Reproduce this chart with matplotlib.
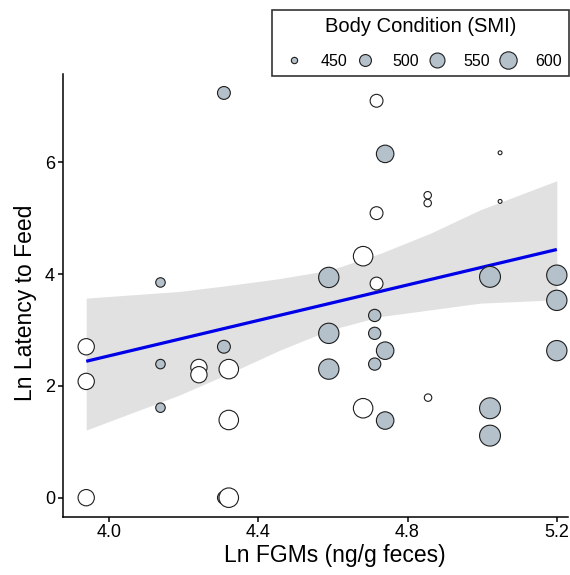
import numpy as np
import matplotlib
matplotlib.use('Agg')
import matplotlib.pyplot as plt
from matplotlib.lines import Line2D

plt.rcParams['font.family'] = ['Liberation Sans', 'DejaVu Sans']

# points: Ln FGMs, Ln latency, body condition (SMI)
grey_x = [4.308, 4.138, 4.740, 4.589, 5.021, 5.200, 5.200, 4.308, 4.138, 4.138, 4.308,
          4.712, 4.712, 4.589, 4.740, 5.200, 4.712, 4.589, 4.740, 5.021, 5.021]
grey_y = [7.24, 3.85, 6.15, 3.94, 3.95, 3.98, 3.53, 2.70, 2.39, 1.61, 0.00,
          3.26, 2.94, 2.94, 2.63, 2.63, 2.39, 2.30, 1.38, 1.60, 1.11]
grey_smi = [514, 472, 604, 676, 693, 676, 676, 514, 472, 472, 514,
            505, 505, 676, 604, 676, 505, 676, 604, 693, 693]

white_x = [4.717, 5.048, 4.854, 4.854, 5.048, 4.717, 4.681, 4.717, 3.939, 4.241, 4.241,
           4.321, 3.939, 4.321, 3.939, 4.321, 4.855, 4.681]
white_y = [7.10, 6.17, 5.41, 5.27, 5.30, 5.09, 4.32, 3.83, 2.70, 2.33, 2.20,
           2.30, 2.08, 1.39, 0.00, 0.00, 1.79, 1.60]
white_smi = [514, 445, 456, 456, 445, 514, 654, 514, 577, 577, 577,
             654, 577, 654, 577, 654, 456, 654]

# fitted line and confidence band
fit_x = [3.939, 5.200]
fit_y = [2.44, 4.44]
band_x = [3.939, 4.19, 4.324, 4.458, 4.592, 4.727, 4.861, 4.995, 5.200]
band_hi = [3.57, 3.69, 3.80, 3.92, 4.07, 4.37, 4.73, 5.15, 5.67]
band_lo = [1.21, 1.84, 2.23, 2.64, 3.00, 3.24, 3.36, 3.48, 3.54]

legend_smi = [450, 500, 550, 600]

GREY = '#b5c1ca'
EDGE = '#1e1e1e'
LW = 0.8


def marker_size(smi):
    '''radius in px -> marker diameter in pt (area ~ SMI)'''
    r_px = 2.5 + 0.54 * np.sqrt(np.maximum(np.asarray(smi, float) - 445, 0))
    return 2 * r_px * 0.72 - LW


fig = plt.figure(figsize=(5.7, 5.75), dpi=100)
ax = fig.add_axes([0.110, 0.1014, 0.8865, 0.770])

ax.fill_between(band_x, band_lo, band_hi, color='#e1e1e1', lw=0, zorder=1)
ax.plot(fit_x, fit_y, color='#0000e8', lw=2.3, solid_capstyle='butt', zorder=2)

ax.scatter(grey_x, grey_y, s=marker_size(grey_smi) ** 2, facecolor=GREY,
           edgecolor=EDGE, linewidth=LW, zorder=3)
ax.scatter(white_x, white_y, s=marker_size(white_smi) ** 2, facecolor='white',
           edgecolor=EDGE, linewidth=LW, zorder=3)

ax.set_xlim(3.876, 5.230)
ax.set_ylim(-0.34, 7.58)
ax.set_xticks([4.0, 4.4, 4.8, 5.2])
ax.set_xticklabels(['4.0', '4.4', '4.8', '5.2'])
ax.set_yticks([0, 2, 4, 6])

for side in ['top', 'right']:
    ax.spines[side].set_visible(False)
for side in ['left', 'bottom']:
    ax.spines[side].set_linewidth(1.1)
ax.tick_params(length=3.5, width=1.1, labelsize=13, pad=2, colors='black')

ax.set_xlabel('Ln FGMs (ng/g feces)', fontsize=16.5)
ax.set_ylabel('Ln Latency to Feed', fontsize=16.5)
ax.xaxis.set_label_coords(0.539, -0.062)
ax.yaxis.set_label_coords(-0.05, 0.483)

handles = [Line2D([], [], ls='none', marker='o', markersize=marker_size(v),
                  markerfacecolor=GREY, markeredgecolor=EDGE, markeredgewidth=LW)
           for v in legend_smi]
leg = fig.legend(handles, [str(v) for v in legend_smi], title='Body Condition (SMI)',
                 ncol=4, loc='upper right', bbox_to_anchor=(0.9982, 0.983),
                 borderaxespad=0, fontsize=11.5, title_fontsize=14.5,
                 frameon=True, fancybox=False, edgecolor='black',
                 handlelength=1.8, handletextpad=0.8, columnspacing=0.2,
                 borderpad=0.45, labelspacing=1.1)
leg.get_frame().set_linewidth(1.2)

fig.savefig('out.png', dpi=100)
